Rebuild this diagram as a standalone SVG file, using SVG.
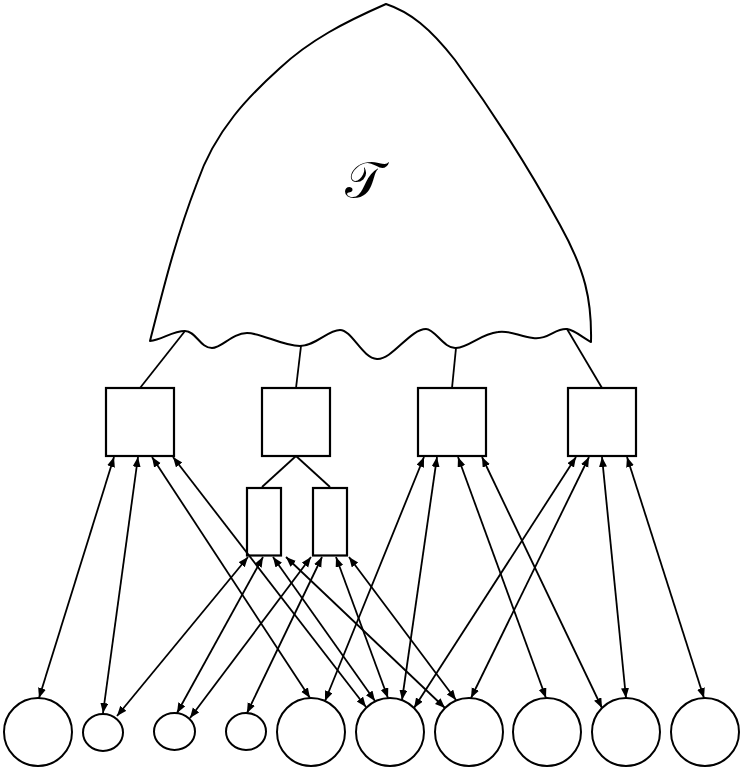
<svg xmlns="http://www.w3.org/2000/svg" width="743" height="770" viewBox="0 0 743 770">
<style>
.sh{fill:none;stroke:#000;stroke-width:2;stroke-linejoin:round}
.bx{fill:#fff;stroke:#000;stroke-width:2.2}
.ci{fill:#fff;stroke:#000;stroke-width:2}
.ln{fill:none;stroke:#000;stroke-width:1.8}
.ar{fill:none;stroke:#000;stroke-width:1.8;marker-start:url(#ah);marker-end:url(#ah)}
.lbl{font-family:"DejaVu Serif","DejaVu Sans",serif;font-size:50px;fill:#000}
</style>
<defs>
<marker id="ah" markerUnits="userSpaceOnUse" markerWidth="11" markerHeight="9" refX="10" refY="4" orient="auto-start-reverse">
<path d="M0,0 L10,4 L0,8 z" fill="#000"/>
</marker>
</defs>
<g id="tree">
<path class="sh" d="M150,341 C163,290 175,240 197,183 C215,130 250,95 280,68 C310,40 345,22 386,4 C410,12 430,28 455,60 C490,108 530,170 560,225 C585,270 592,300 591,342 C583,338 575,330 567,329 C555,328 548,340 533,338 C518,336 510,330 498,332 C480,334 470,347 456,348 C444,349 435,329 426,329 C410,329 392,360 377,359 C362,358 352,330 340,330 C328,330 315,346 300,346 C282,346 262,333 247,333 C232,333 222,348 212,348 C200,348 196,331 185,331 C172,331 162,340 150,341 Z"/>
<text class="lbl" x="364" y="197" text-anchor="middle">𝒯</text>
</g>
<g id="tree-links">
<line class="ln" x1="185" y1="331" x2="140" y2="388"/>
<line class="ln" x1="301" y1="346" x2="296" y2="388"/>
<line class="ln" x1="456" y1="348" x2="452" y2="388"/>
<line class="ln" x1="567" y1="329" x2="602" y2="388"/>
<line class="ln" x1="296" y1="456" x2="262" y2="487"/>
<line class="ln" x1="296" y1="456" x2="330" y2="487"/>
</g>
<g id="B1"><rect class="bx" x="106" y="388" width="68" height="68"/></g>
<g id="B2"><rect class="bx" x="262" y="388" width="68" height="68"/></g>
<g id="B3"><rect class="bx" x="418" y="388" width="68" height="68"/></g>
<g id="B4"><rect class="bx" x="568" y="388" width="68" height="68"/></g>
<g id="R1"><rect class="bx" x="247" y="488" width="34" height="67.5"/></g>
<g id="R2"><rect class="bx" x="313" y="488" width="34" height="67.5"/></g>
<g id="C1"><circle class="ci" cx="38" cy="732" r="34"/></g>
<g id="C2"><ellipse class="ci" cx="103" cy="732.5" rx="20" ry="18.5"/></g>
<g id="C3"><ellipse class="ci" cx="174.5" cy="731.5" rx="20.5" ry="18.5"/></g>
<g id="C4"><ellipse class="ci" cx="246" cy="731.5" rx="20" ry="18.5"/></g>
<g id="C5"><circle class="ci" cx="311" cy="732" r="34"/></g>
<g id="C6"><circle class="ci" cx="390" cy="732" r="34"/></g>
<g id="C7"><circle class="ci" cx="469" cy="732" r="34"/></g>
<g id="C8"><circle class="ci" cx="547" cy="732" r="34"/></g>
<g id="C9"><circle class="ci" cx="626" cy="732" r="34"/></g>
<g id="C10"><circle class="ci" cx="705" cy="732" r="34"/></g>
<g id="connectors">
<line class="ar" x1="114" y1="457" x2="39" y2="698"/>
<line class="ar" x1="138" y1="457" x2="103" y2="713"/>
<line class="ar" x1="152" y1="457" x2="310" y2="698"/>
<line class="ar" x1="173" y1="457" x2="366" y2="707"/>
<line class="ar" x1="248" y1="557" x2="117" y2="716"/>
<line class="ar" x1="263" y1="557" x2="177" y2="713"/>
<line class="ar" x1="273" y1="557" x2="375" y2="701"/>
<line class="ar" x1="286" y1="557" x2="445" y2="708"/>
<line class="ar" x1="311" y1="557" x2="190" y2="718"/>
<line class="ar" x1="322" y1="557" x2="247" y2="713"/>
<line class="ar" x1="336" y1="557" x2="388" y2="698"/>
<line class="ar" x1="349" y1="557" x2="456" y2="700"/>
<line class="ar" x1="424" y1="457" x2="325" y2="701"/>
<line class="ar" x1="437" y1="457" x2="402" y2="700"/>
<line class="ar" x1="458" y1="457" x2="546" y2="698"/>
<line class="ar" x1="482" y1="457" x2="602" y2="708"/>
<line class="ar" x1="576" y1="457" x2="414" y2="708"/>
<line class="ar" x1="589" y1="457" x2="471" y2="698"/>
<line class="ar" x1="602" y1="457" x2="626" y2="698"/>
<line class="ar" x1="627" y1="457" x2="704" y2="698"/>
</g>
</svg>
